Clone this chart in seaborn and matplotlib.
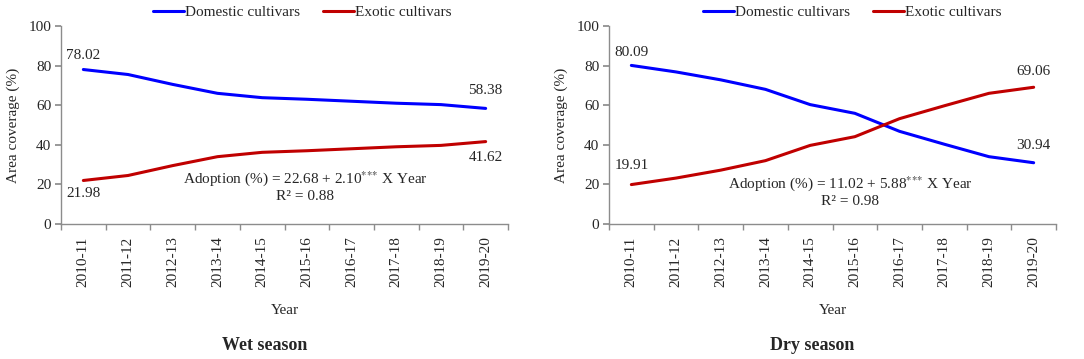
import matplotlib
matplotlib.use("Agg")
import matplotlib.pyplot as plt
import seaborn as sns
import pandas as pd
import numpy as np

years = ["2010-11", "2011-12", "2012-13", "2013-14", "2014-15",
         "2015-16", "2016-17", "2017-18", "2018-19", "2019-20"]
wet_domestic = [78.02, 75.5, 70.5, 66.0, 63.8, 63.0, 62.0, 61.0, 60.3, 58.38]
wet_exotic = [21.98, 24.5, 29.5, 34.0, 36.2, 37.0, 38.0, 39.0, 39.7, 41.62]
dry_domestic = [80.09, 76.8, 72.8, 68.0, 60.3, 55.9, 46.8, 40.3, 34.0, 30.94]
dry_exotic = [19.91, 23.2, 27.2, 32.0, 39.7, 44.1, 53.2, 59.7, 66.0, 69.06]
series_names = ["Domestic cultivars", "Exotic cultivars"]
panel_titles = ["Wet season", "Dry season"]
equations = ["Adoption (%) = 22.68 + 2.10$^{{*}{*}{*}}$ X Year\nR² = 0.88",
             "Adoption (%) = 11.02 + 5.88$^{{*}{*}{*}}$ X Year\nR² = 0.98"]

sns.set_theme(style="white")
plt.rcParams["font.family"] = ["Liberation Serif", "DejaVu Serif"]
plt.rcParams["mathtext.fontset"] = "stix"

colors = {"Domestic cultivars": "#0000FF", "Exotic cultivars": "#C00000"}
axis_col = "#8C8C8C"

fig = plt.figure(figsize=(10.84, 3.59), dpi=100)
W, H = 1084, 359
boxes = [(61, 508), (609, 1056)]
top_px, bot_px = 26, 224

data_sets = [(wet_domestic, wet_exotic), (dry_domestic, dry_exotic)]
annots = [
    [(0, 78.02, "78.02", 14), (0, 21.98, "21.98", -13), (9, 58.38, "58.38", 18), (9, 41.62, "41.62", -16)],
    [(0, 80.09, "80.09", 13), (0, 19.91, "19.91", 19), (9, 69.06, "69.06", 16), (9, 30.94, "30.94", 17)],
]
eq_pos = [(305, 186), (850, 191)]
legend_x = [0.54, 0.545]

for i, ((x0, x1), (dom, exo)) in enumerate(zip(boxes, data_sets)):
    ax = fig.add_axes([x0 / W, 1 - bot_px / H, (x1 - x0) / W, (bot_px - top_px) / H])
    df = pd.DataFrame({
        "pos": list(range(len(years))) * 2,
        "value": dom + exo,
        "series": [series_names[0]] * len(years) + [series_names[1]] * len(years),
    })
    sns.lineplot(data=df, x="pos", y="value", hue="series", palette=colors,
                 linewidth=2.2, ax=ax, legend=False)
    ax.set_xlim(-0.5, len(years) - 0.5)
    ax.set_ylim(0, 100)
    ax.set_yticks(range(0, 101, 20))
    ax.set_xticks(range(len(years)))
    ax.set_xticklabels(years, rotation=90, fontsize=11)
    ax.set_xticks(np.arange(-0.5, len(years), 1.0), minor=True)
    ax.tick_params(axis="x", which="major", length=0, pad=9)
    ax.tick_params(axis="x", which="minor", length=4, color=axis_col, direction="out", bottom=True)
    ax.tick_params(axis="y", length=4, color=axis_col, direction="out", left=True, labelsize=11, pad=3)
    for s in ["top", "right"]:
        ax.spines[s].set_visible(False)
    for s in ["left", "bottom"]:
        ax.spines[s].set_color(axis_col)
        ax.spines[s].set_linewidth(1.0)
    ax.set_ylabel("Area coverage (%)", fontsize=11, labelpad=6)
    ax.set_xlabel("Year", fontsize=11, labelpad=12)
    cx = (x0 + x1) / 2 - 20
    fig.text(cx / W, 1 - 345 / H, panel_titles[i], ha="center", va="center",
             fontsize=13, fontweight="bold")
    for (xi, yv, txt, off) in annots[i]:
        ax.annotate(txt, (xi, yv), xytext=(0, off), textcoords="offset pixels",
                    ha="center", va="center", fontsize=11)
    ex, ey = eq_pos[i]
    fig.text(ex / W, 1 - ey / H, equations[i], ha="center", va="center",
             fontsize=11, linespacing=1.2)
    handles = [plt.Line2D([], [], color=colors[n], lw=2.2) for n in series_names]
    ax.legend(handles, series_names, loc="center", bbox_to_anchor=(legend_x[i], 1.07),
              ncol=2, frameon=False, fontsize=11, handlelength=2.0,
              handletextpad=0.1, columnspacing=1.5, borderaxespad=0)

fig.savefig("out.png", dpi=100)
